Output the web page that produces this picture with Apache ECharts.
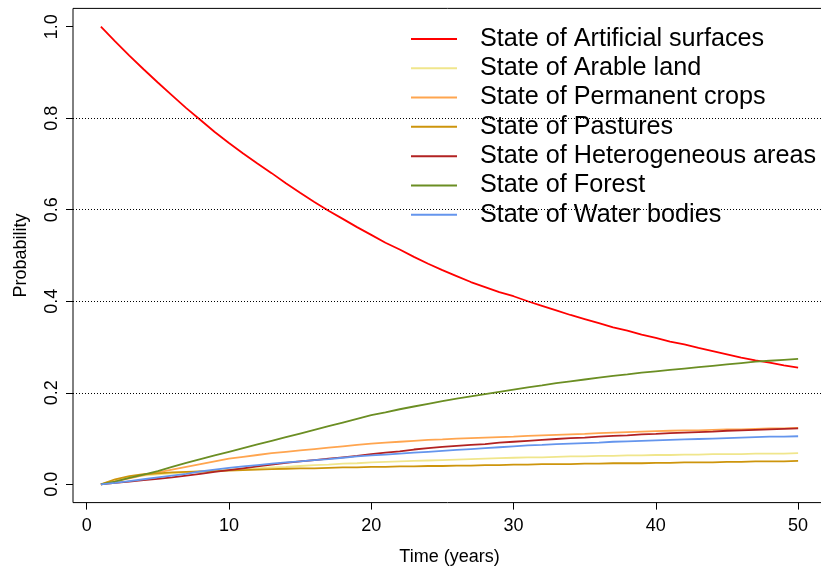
<!DOCTYPE html>
<html>
<head>
<meta charset="utf-8">
<script src="https://cdn.jsdelivr.net/npm/echarts@6/dist/echarts.min.js"></script>
<style>
html,body{margin:0;padding:0;background:#fff;}
#chart{width:821px;height:570px;}
</style>
</head>
<body>
<div id="chart"></div>
<script>
var years = [];
for (var i = 1; i <= 50; i++) years.push(i);

var seriesNames = ['State of Artificial surfaces','State of Arable land','State of Permanent crops','State of Pastures','State of Heterogeneous areas','State of Forest','State of Water bodies'];
var seriesColors = ['#FF0000','#F0E68C','#FFA54F','#CD950C','#B22222','#6B8E23','#6495ED'];

var artificial = [1.000,0.968,0.937,0.907,0.878,0.850,0.822,0.796,0.770,0.746,
  0.723,0.701,0.680,0.658,0.637,0.617,0.598,0.580,0.562,0.545,
  0.528,0.513,0.497,0.482,0.468,0.455,0.442,0.431,0.420,0.411,
  0.400,0.390,0.380,0.370,0.361,0.352,0.343,0.336,0.327,0.320,
  0.312,0.306,0.298,0.291,0.284,0.277,0.271,0.266,0.260,0.255];
var arable = [0.000,0.009,0.015,0.019,0.022,0.024,0.026,0.028,0.030,0.032,
  0.034,0.035,0.037,0.038,0.040,0.042,0.043,0.045,0.046,0.048,
  0.049,0.050,0.051,0.052,0.053,0.054,0.055,0.056,0.057,0.058,
  0.059,0.059,0.060,0.061,0.061,0.062,0.062,0.063,0.063,0.064,
  0.064,0.065,0.065,0.066,0.066,0.066,0.067,0.067,0.067,0.068];
var permanent = [0.000,0.007,0.013,0.020,0.026,0.032,0.038,0.044,0.050,0.056,
  0.060,0.064,0.068,0.071,0.074,0.077,0.080,0.083,0.086,0.089,
  0.091,0.093,0.095,0.097,0.098,0.100,0.101,0.102,0.103,0.104,
  0.106,0.107,0.108,0.109,0.110,0.112,0.113,0.114,0.115,0.116,
  0.117,0.118,0.118,0.119,0.120,0.120,0.121,0.122,0.122,0.123];
var pastures = [0.000,0.011,0.018,0.022,0.024,0.026,0.027,0.028,0.029,0.030,
  0.031,0.032,0.033,0.034,0.035,0.035,0.036,0.037,0.037,0.038,
  0.038,0.039,0.039,0.040,0.040,0.041,0.041,0.042,0.042,0.043,
  0.043,0.044,0.044,0.044,0.045,0.045,0.046,0.046,0.046,0.047,
  0.047,0.048,0.048,0.048,0.049,0.049,0.050,0.050,0.050,0.051];
var heterogeneous = [0.000,0.003,0.006,0.009,0.012,0.015,0.019,0.023,0.027,0.031,
  0.035,0.039,0.043,0.047,0.050,0.053,0.056,0.059,0.062,0.066,
  0.069,0.072,0.076,0.079,0.082,0.084,0.086,0.088,0.091,0.093,
  0.095,0.097,0.099,0.101,0.102,0.104,0.106,0.107,0.109,0.110,
  0.112,0.113,0.114,0.115,0.117,0.118,0.119,0.120,0.121,0.122];
var forest = [0.000,0.006,0.014,0.021,0.029,0.038,0.047,0.055,0.063,0.071,
  0.079,0.087,0.095,0.103,0.111,0.119,0.127,0.135,0.143,0.151,
  0.157,0.164,0.170,0.176,0.182,0.187,0.192,0.197,0.202,0.207,
  0.212,0.216,0.221,0.225,0.229,0.233,0.237,0.240,0.244,0.247,
  0.250,0.253,0.256,0.259,0.262,0.265,0.268,0.270,0.272,0.274];
var water = [0.000,0.003,0.007,0.011,0.015,0.019,0.023,0.028,0.032,0.036,
  0.039,0.042,0.045,0.048,0.050,0.053,0.055,0.058,0.061,0.063,
  0.065,0.067,0.069,0.071,0.073,0.075,0.077,0.079,0.081,0.083,
  0.085,0.086,0.088,0.089,0.090,0.091,0.093,0.094,0.095,0.096,
  0.097,0.098,0.099,0.100,0.101,0.102,0.103,0.104,0.104,0.105];

var xTicks = [0,10,20,30,40,50];
var yTicks = [0,0.2,0.4,0.6,0.8,1.0];
var gridLevels = [0.2,0.4,0.6,0.8];

var allValues = [artificial, arable, permanent, pastures, heterogeneous, forest, water];
var FONT = '"Liberation Sans", Arial, sans-serif';

var series = allValues.map(function (vals, k) {
  var s = {
    name: seriesNames[k],
    type: 'line',
    data: years.map(function (y, i) { return [y, vals[i]]; }),
    symbol: 'none',
    showSymbol: false,
    smooth: false,
    lineStyle: { color: seriesColors[k], width: 1.8 },
    itemStyle: { color: seriesColors[k] },
    emphasis: { disabled: true },
    z: 3 + k
  };
  if (k === 0) {
    s.markLine = {
      silent: true,
      symbol: ['none','none'],
      label: { show: false },
      lineStyle: { color: '#000', width: 1, type: [1, 2] },
      emphasis: { disabled: true },
      data: gridLevels.map(function (v) { return { yAxis: v }; }),
      animation: false
    };
  }
  return s;
});

var chart = echarts.init(document.getElementById('chart'), null, { renderer: 'canvas' });
chart.setOption({
  animation: false,
  backgroundColor: '#fff',
  textStyle: { fontFamily: FONT },
  grid: {
    left: 73, right: -5, top: 8.4, bottom: 67.4,
    show: true, borderColor: '#000', borderWidth: 1,
    containLabel: false,
    outerBoundsMode: 'none'
  },
  legend: {
    orient: 'vertical',
    left: 411,
    top: 24.3,
    padding: 0,
    itemWidth: 46,
    itemHeight: 2,
    itemGap: 0,
    icon: 'rect',
    selectedMode: false,
    data: seriesNames.map(function (n, k) { return { name: n, itemStyle: { color: seriesColors[k] } }; }),
    textStyle: { fontFamily: FONT, fontSize: 25.2, color: '#000', lineHeight: 29.3, padding: [0, 0, 0, 18] }
  },
  xAxis: {
    type: 'value',
    min: -0.96,
    max: 51.96,
    name: 'Time (years)',
    nameLocation: 'middle',
    nameGap: 45,
    nameTextStyle: { fontFamily: FONT, fontSize: 18, color: '#000' },
    axisLine: { show: false, onZero: false },
    axisTick: { show: true, length: 7, lineStyle: { color: '#000' }, customValues: xTicks },
    axisLabel: { show: true, margin: 14, fontFamily: FONT, fontSize: 18, color: '#000', customValues: xTicks },
    splitLine: { show: false }
  },
  yAxis: {
    type: 'value',
    min: -0.04,
    max: 1.04,
    name: 'Probability',
    nameLocation: 'middle',
    nameGap: 43,
    nameRotate: 90,
    nameTextStyle: { fontFamily: FONT, fontSize: 18, color: '#000' },
    axisLine: { show: false, onZero: false },
    axisTick: { show: true, length: 7, lineStyle: { color: '#000' }, customValues: yTicks },
    axisLabel: {
      show: true, rotate: 90, margin: 12, fontFamily: FONT, fontSize: 18, color: '#000',
      customValues: yTicks,
      formatter: function (v) { return Number(v).toFixed(1); }
    },
    splitLine: { show: false }
  },
  series: series
});
</script>
</body>
</html>
